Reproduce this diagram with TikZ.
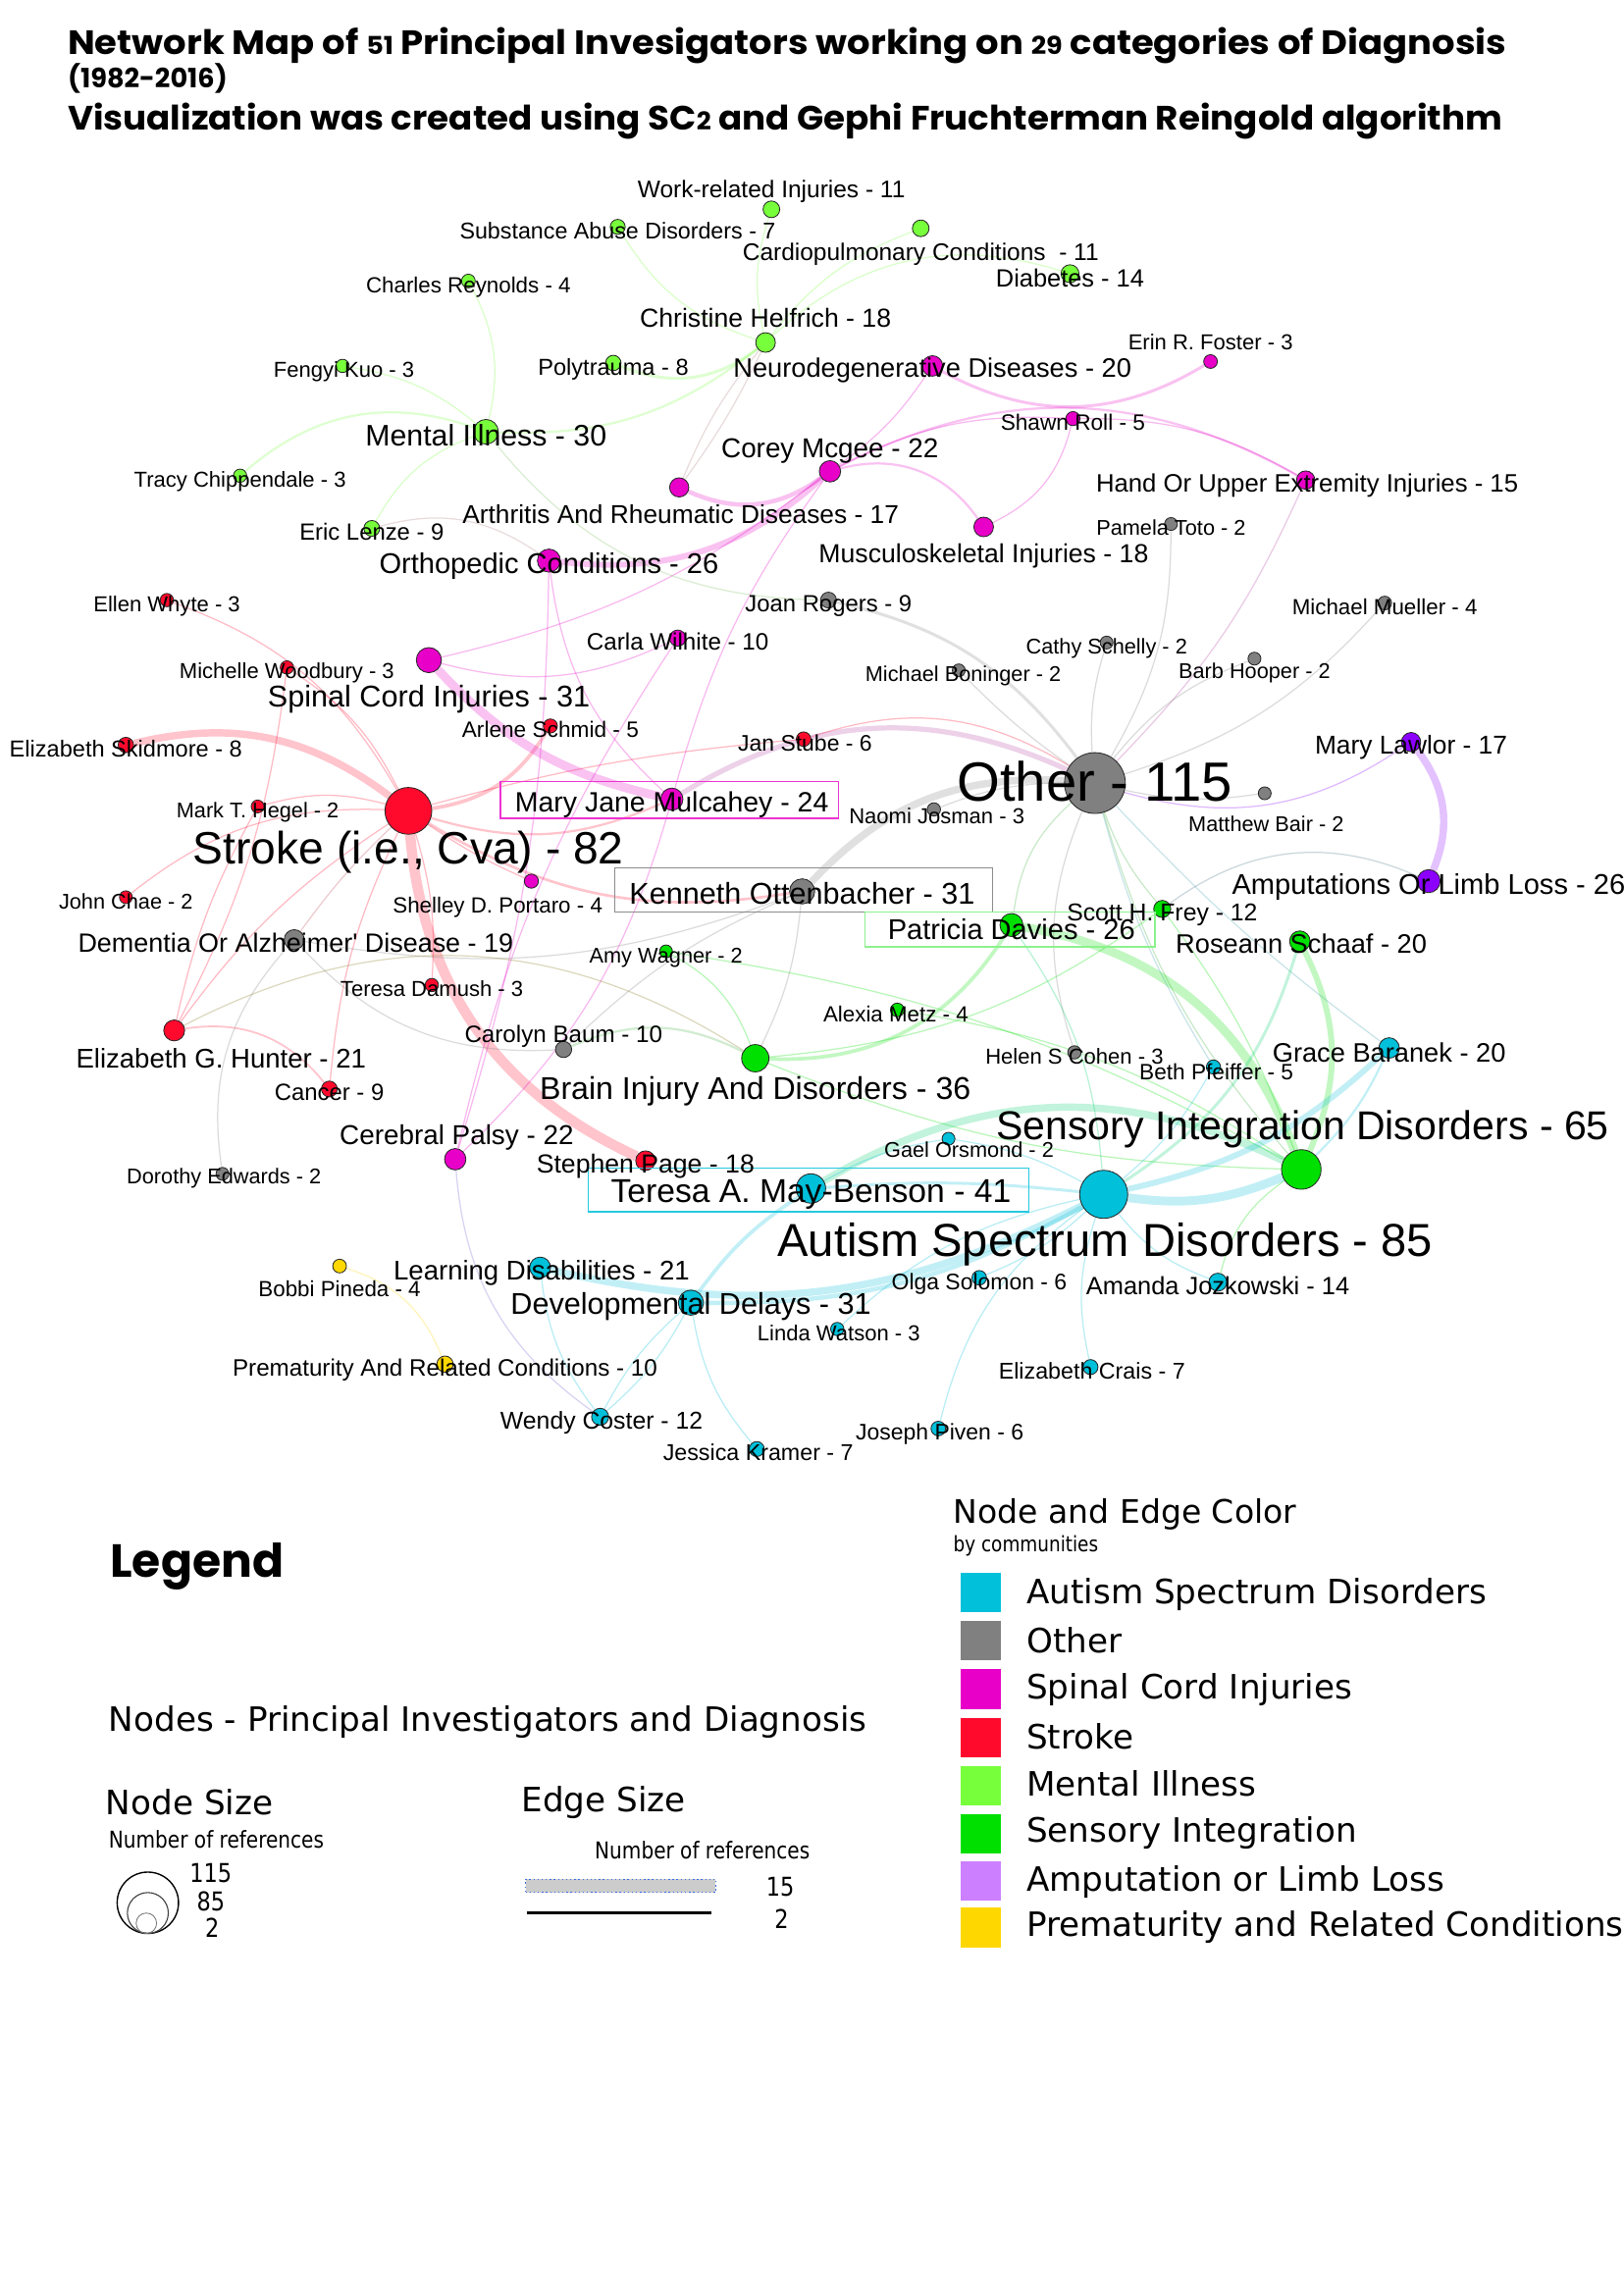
\documentclass[tikz,border=0pt]{standalone}
\usepackage{fontspec}
\setmainfont{Liberation Sans}
\newfontfamily\lbfont{Liberation Sans}
\newfontfamily\vfont{DejaVu Sans}
\newfontfamily\cfont{DejaVu Sans}[FakeStretch=0.85]
\newfontfamily\tfont{Poppins}
\pgfdeclarelayer{bgl}
\pgfdeclarelayer{edges}
\pgfsetlayers{bgl,edges,main}
\definecolor{cASD}{RGB}{0,192,218}
\definecolor{cOTH}{RGB}{128,128,128}
\definecolor{cSCI}{RGB}{232,0,200}
\definecolor{cSTR}{RGB}{255,10,45}
\definecolor{cMI}{RGB}{120,255,60}
\definecolor{cSI}{RGB}{0,224,0}
\definecolor{cAMP}{RGB}{140,0,255}
\definecolor{cAMPl}{RGB}{204,128,255}
\definecolor{cPRE}{RGB}{255,215,0}
\definecolor{cDot}{RGB}{60,110,230}
\tikzset{
  gnode/.style={circle, draw=black!85, line width=0.3pt, fill=#1, inner sep=0pt},
  gsz/.style={minimum size={(4.1+0.145*#1)*1.07354pt}},
  glab/.style={font={\lbfont\pgfmathsetmacro\lsz{7.6+0.11*#1}\fontsize{\lsz}{\lsz}\selectfont}, inner sep=0pt, anchor=mid, text=black, yshift={-0.2*(7.6+0.11*#1)*1pt}},
  lnk/.style={draw=#1, draw opacity=0.28, line width=0.45pt},
  ew/.style={line width={#1*0.53677pt}, draw opacity=0.24},
  lgbox/.style={draw=#1, line width=0.5pt, inner sep=0pt},
  sq/.style={fill=#1, minimum width=15pt, minimum height=14.5pt, inner sep=0pt},
  lgt/.style={font=\vfont\fontsize{12.3}{12.3}\selectfont, anchor=mid west, inner sep=0pt},
  lgs/.style={font=\cfont\fontsize{#1}{#1}\selectfont, inner sep=0pt},
}
\newcommand\gn[5]{\node[gnode=#4, gsz=#5] (#1) at (#2,#3) {};}
\newcommand\gl[5]{\node[glab=#4] (l#1) at (#2,#3) {#5};}
\begin{document}
\begin{tikzpicture}[x=0.53677pt, y=-0.53677pt]
\useasboundingbox (0,0) rectangle (1109,1568);
\begin{pgfonlayer}{bgl}
\fill[white] (0,0) rectangle (1109,1568);
\end{pgfonlayer}

% ---------- title ----------
\node[anchor=base west, inner sep=0pt] (title1) at (46,37) {\resizebox{527.6pt}{9.9pt}{\tfont\bfseries\fontsize{13}{13}\selectfont Network Map of {\fontsize{9.5}{9.5}\selectfont 51} Principal Invesigators working on {\fontsize{9.5}{9.5}\selectfont 29} categories of Diagnosis}};
\node[anchor=base west, inner sep=0pt] (title2) at (46,60) {\resizebox{58.5pt}{!}{\tfont\bfseries\fontsize{9}{9}\selectfont (1982-2016)}};
\node[anchor=base west, inner sep=0pt] (title3) at (46,89) {\resizebox{526pt}{9.9pt}{\tfont\bfseries\fontsize{13}{13}\selectfont Visualization was created using SC{\fontsize{9.5}{9.5}\selectfont 2} and Gephi Fruchterman Reingold algorithm}};

% ---------- nodes ----------
\gn{work}{527}{143}{cMI}{11}
\gn{subst}{422}{155}{cMI}{7}
\gn{cardio}{629}{156}{cMI}{11}
\gn{diab}{731}{187}{cMI}{14}
\gn{charles}{320}{192}{cMI}{4}
\gn{chris}{523}{234}{cMI}{18}
\gn{poly}{419}{248}{cMI}{8}
\gn{fengyi}{234}{250}{cMI}{3}
\gn{mi}{332}{295}{cMI}{30}
\gn{tracy}{164}{325}{cMI}{3}
\gn{eric}{254}{361}{cMI}{9}
\gn{neuro}{637}{250}{cSCI}{20}
\gn{erin}{827}{247}{cSCI}{4}
\gn{shawn}{733}{286}{cSCI}{5}
\gn{corey}{567}{322}{cSCI}{22}
\gn{hand}{892}{328}{cSCI}{15}
\gn{arth}{464}{333}{cSCI}{17}
\gn{orth}{375}{383}{cSCI}{26}
\gn{musc}{672}{360}{cSCI}{18}
\gn{carla}{463}{436}{cSCI}{10}
\gn{sci}{293}{451}{cSCI}{31}
\gn{mjm}{459}{546}{cSCI}{24}
\gn{portaro}{363}{602}{cSCI}{5}
\gn{cp}{311}{792}{cSCI}{22}
\gn{ellen}{114}{410}{cSTR}{3}
\gn{woodbury}{196}{456}{cSTR}{3}
\gn{skid}{86}{509}{cSTR}{8}
\gn{schmid}{376}{496}{cSTR}{5}
\gn{stube}{549}{505}{cSTR}{6}
\gn{stroke}{279}{554}{cSTR}{82}
\gn{hegel}{176}{551}{cSTR}{2}
\gn{chae}{86}{613}{cSTR}{2}
\gn{damush}{295}{673}{cSTR}{3}
\gn{hunter}{119}{704}{cSTR}{21}
\gn{cancer}{225}{744}{cSTR}{9}
\gn{page}{441}{793}{cSTR}{18}
\gn{joan}{566}{410}{cOTH}{9}
\gn{pamela}{800}{358}{cOTH}{2}
\gn{mueller}{946}{412}{cOTH}{4}
\gn{cathy}{756}{439}{cOTH}{2}
\gn{boninger}{655}{458}{cOTH}{2}
\gn{barb}{857}{450}{cOTH}{2}
\gn{other}{748}{535}{cOTH}{115}
\gn{bair}{864}{542}{cOTH}{2}
\gn{naomi}{638}{553}{cOTH}{3}
\gn{kenneth}{548}{609}{cOTH}{31}
\gn{dementia}{201}{642}{cOTH}{19}
\gn{baum}{385}{717}{cOTH}{10}
\gn{dorothy}{152}{802}{cOTH}{2}
\gn{helen}{734}{719}{cOTH}{3}
\gn{frey}{794}{621}{cSI}{12}
\gn{davies}{691}{632}{cSI}{26}
\gn{schaaf}{888}{643}{cSI}{20}
\gn{wagner}{455}{650}{cSI}{2}
\gn{metz}{613}{690}{cSI}{4}
\gn{brain}{516}{723}{cSI}{36}
\gn{sid}{889}{799}{cSI}{65}
\gn{lawlor}{964}{507}{cAMP}{17}
\gn{amp}{976}{602}{cAMP}{26}
\gn{baranek}{949}{716}{cASD}{20}
\gn{pfeiffer}{829}{729}{cASD}{5}
\gn{orsmond}{648}{778}{cASD}{2}
\gn{mayb}{554}{812}{cASD}{41}
\gn{asd}{754}{816}{cASD}{85}
\gn{ld}{369}{866}{cASD}{21}
\gn{dd}{472}{890}{cASD}{31}
\gn{solomon}{669}{873}{cASD}{6}
\gn{jozk}{832}{876}{cASD}{14}
\gn{watson}{572}{908}{cASD}{3}
\gn{crais}{745}{934}{cASD}{7}
\gn{coster}{410}{968}{cASD}{12}
\gn{piven}{641}{976}{cASD}{6}
\gn{kramer}{517}{990}{cASD}{7}
\gn{pineda}{232}{865}{cPRE}{4}
\gn{prem}{304}{932}{cPRE}{10}

% ---------- edges ----------
\begin{pgfonlayer}{edges}
% stroke
\draw[lnk=cSTR, ew=7] (stroke) to[bend right=30] (page);
\draw[lnk=cSTR, ew=5] (skid) to[bend left=25] (stroke);
\draw[lnk=cSTR] (ellen) to[bend left=20] (stroke);
\draw[lnk=cSTR] (woodbury) to[bend left=15] (stroke);
\draw[lnk=cSTR] (hegel) to[bend left=15] (stroke);
\draw[lnk=cSTR, ew=2.5] (stroke) to[bend right=25] (schmid);
\draw[lnk=cSTR] (stroke) to[bend left=5] (stube);
\draw[lnk=cSTR] (stube) to[bend left=25] (other);
\draw[lnk=cSTR] (chae) to[bend left=20] (stroke);
\draw[lnk=cSTR] (hunter) to[bend left=10] (stroke);
\draw[lnk=cSTR] (hunter) to[bend right=10] (woodbury);
\draw[lnk=cSTR] (hunter) to[bend left=8] (hegel);
\draw[lnk=cSTR, ew=1.2] (hunter) to[bend left=30] (cancer);
\draw[lnk=cSTR] (stroke) to[bend right=10] (cancer);
\draw[lnk=cSTR] (damush) to[bend right=10] (stroke);
\draw[lnk=cSTR, ew=1.8] (stroke) to[bend right=20] (kenneth);
\draw[lnk=cSTR, ew=1.5] (stroke) to[bend right=20] (mjm);
\draw[lnk=cSTR] (stroke) to[bend right=5] (portaro);
\draw[lnk=cSTR!50!cOTH] (dementia) to[bend left=5] (stroke);
% spinal cord
\draw[lnk=cSCI, ew=6] (sci) to[bend right=17] (mjm);
\draw[lnk=cSCI, ew=4] (orth) to[bend right=24] (corey);
\draw[lnk=cSCI, ew=3] (arth) to[bend right=30] (corey);
\draw[lnk=cSCI] (sci) to[bend right=20] (carla);
\draw[lnk=cSCI] (sci) to[bend right=12] (corey);
\draw[lnk=cSCI] (corey) to[bend right=10] (mjm);
\draw[lnk=cSCI] (orth) to[bend right=20] (mjm);
\draw[lnk=cSCI] (orth) to[bend left=8] (cp);
\draw[lnk=cSCI] (mjm) to[bend left=15] (cp);
\draw[lnk=cSCI] (cp) to[bend left=10] (carla);
\draw[lnk=cSCI, ew=2] (neuro) to[bend right=30] (erin);
\draw[lnk=cSCI, ew=1.5] (corey) to[bend left=28] (hand);
\draw[lnk=cSCI] (shawn) to[bend left=15] (hand);
\draw[lnk=cSCI] (corey) to[bend left=15] (shawn);
\draw[lnk=cSCI, ew=1.5] (corey) to[bend left=35] (musc);
\draw[lnk=cSCI] (shawn) to[bend left=25] (musc);
\draw[lnk=cSCI] (neuro) to[bend left=10] (corey);
\draw[lnk=cSCI!50!cOTH] (hand) to[bend left=10] (other);
\draw[lnk=cSCI!50!cOTH, ew=3.5] (mjm) to[bend left=28] (other);
\draw[lnk=cSCI!50!cASD] (cp) to[bend right=25] (coster);
\draw[lnk=cSCI!50!cMI] (chris) to[bend right=8] (arth);
\draw[lnk=cSCI!50!cMI] (chris) to[bend left=5] (arth);
\draw[lnk=cSCI!50!cMI] (eric) to[bend left=25] (orth);
% mental illness
\draw[lnk=cMI] (charles) to[bend left=20] (mi);
\draw[lnk=cMI] (fengyi) to[bend left=15] (mi);
\draw[lnk=cMI, ew=1.5] (tracy) to[bend left=30] (mi);
\draw[lnk=cMI] (eric) to[bend left=20] (mi);
\draw[lnk=cMI, ew=1.5] (mi) to[bend right=20] (chris);
\draw[lnk=cMI, ew=2] (poly) to[bend right=30] (chris);
\draw[lnk=cMI] (subst) to[bend right=20] (chris);
\draw[lnk=cMI] (work) to[bend right=15] (chris);
\draw[lnk=cMI] (chris) to[bend left=15] (cardio);
\draw[lnk=cMI] (chris) to[bend left=30] (diab);
\draw[lnk=cMI!50!cOTH] (mi) to[bend right=25] (joan);
% other
\draw[lnk=cOTH, ew=5] (kenneth) to[bend left=25] (other);
\draw[lnk=cOTH, ew=2] (joan) to[bend left=20] (other);
\draw[lnk=cOTH] (other) to[bend left=10] (cathy);
\draw[lnk=cOTH] (other) to[bend left=5] (boninger);
\draw[lnk=cOTH] (other) to[bend left=15] (barb);
\draw[lnk=cOTH] (other) to[bend right=15] (mueller);
\draw[lnk=cOTH] (other) to[bend right=15] (pamela);
\draw[lnk=cOTH] (other) to[bend right=10] (naomi);
\draw[lnk=cOTH] (other) to[bend right=20] (helen);
\draw[lnk=cOTH] (other) to[bend right=10] (bair);
\draw[lnk=cOTH] (kenneth) to[bend left=10] (brain);
\draw[lnk=cOTH] (kenneth) to[bend right=10] (baum);
\draw[lnk=cOTH] (dementia) to[bend right=15] (kenneth);
\draw[lnk=cOTH] (dementia) to[bend right=25] (baum);
\draw[lnk=cOTH] (dorothy) to[bend left=25] (dementia);
\draw[lnk=cOTH!50!cSI] (other) to[bend right=20] (davies);
\draw[lnk=cOTH!50!cSI] (other) to[bend right=10] (frey);
\draw[lnk=cOTH!50!cSI] (other) to[bend right=12] (sid);
\draw[lnk=cOTH!50!cASD] (other) to[bend right=8] (pfeiffer);
\draw[lnk=cOTH!50!cASD] (other) to[bend right=5] (baranek);
\draw[lnk=cOTH!50!cSI, ew=1.5] (baum) to[bend left=25] (brain);
\draw[lnk=cSTR!50!cSI] (hunter) to[bend left=30] (brain);
\draw[lnk=cAMP] (other) to[bend right=25] (lawlor);
\draw[lnk=cSI!50!cAMP] (frey) to[bend left=30] (amp);
% sensory integration
\draw[lnk=cSI, ew=6] (davies) to[bend left=30] (sid);
\draw[lnk=cSI, ew=4] (schaaf) to[bend left=25] (sid);
\draw[lnk=cSI, ew=2.5] (brain) to[bend right=30] (davies);
\draw[lnk=cSI] (brain) to[bend right=15] (frey);
\draw[lnk=cSI] (brain) to[bend right=10] (sid);
\draw[lnk=cSI] (wagner) to[bend left=20] (brain);
\draw[lnk=cSI] (wagner) to[bend left=10] (sid);
\draw[lnk=cSI] (metz) to[bend left=12] (sid);
\draw[lnk=cSI] (frey) to[bend left=8] (sid);
\draw[lnk=cSI] (jozk) to[bend left=20] (sid);
\draw[lnk=cSI!50!cASD, ew=5] (mayb) to[bend left=28] (sid);
\draw[lnk=cSI!50!cASD, ew=2] (schaaf) to[bend left=20] (asd);
\draw[lnk=cSI!50!cASD] (davies) to[bend left=15] (asd);
% amputation
\draw[lnk=cAMP, ew=5] (lawlor) to[bend left=30] (amp);
% autism
\draw[lnk=cASD, ew=6] (asd) to[bend right=15] (sid);
\draw[lnk=cASD, ew=4] (baranek) to[bend left=15] (asd);
\draw[lnk=cASD, ew=1.5] (baranek) to[bend left=10] (sid);
\draw[lnk=cASD, ew=2] (mayb) to[bend left=5] (asd);
\draw[lnk=cASD, ew=5] (ld) to[bend right=20] (asd);
\draw[lnk=cASD, ew=3] (dd) to[bend right=15] (asd);
\draw[lnk=cASD, ew=2.5] (dd) to[bend left=10] (mayb);
\draw[lnk=cASD] (asd) to[bend right=10] (orsmond);
\draw[lnk=cASD] (mayb) to[bend left=10] (orsmond);
\draw[lnk=cASD] (asd) to[bend left=10] (solomon);
\draw[lnk=cASD] (asd) to[bend right=15] (watson);
\draw[lnk=cASD] (asd) to[bend right=15] (crais);
\draw[lnk=cASD] (asd) to[bend right=20] (piven);
\draw[lnk=cASD] (asd) to[bend right=15] (jozk);
\draw[lnk=cASD] (asd) to[bend right=10] (pfeiffer);
\draw[lnk=cASD] (dd) to[bend left=10] (coster);
\draw[lnk=cASD] (dd) to[bend right=10] (coster);
\draw[lnk=cASD] (dd) to[bend right=15] (kramer);
\draw[lnk=cASD] (ld) to[bend right=15] (coster);
% prematurity
\draw[lnk=cPRE, ew=1] (pineda) to[bend left=25] (prem);
\end{pgfonlayer}

% ---------- boxes of highlighted labels ----------
\node[lgbox=cSCI!80!white, minimum width=124pt, minimum height=13.4pt] (bmjm) at (457.5,546.5) {};
\node[lgbox=black!45, minimum width=138.5pt, minimum height=16pt] (bkenneth) at (549,608) {};
\node[lgbox=cSI!45!white, minimum width=106.3pt, minimum height=12.9pt] (bdavies) at (690,635) {};
\node[lgbox=cASD!85!white, minimum width=161.6pt, minimum height=16pt] (bmayb) at (552.5,813) {};

% ---------- labels ----------
\gl{work}{527}{127}{11}{Work-related Injuries - 11}
\gl{subst}{422}{155}{7}{Substance Abuse Disorders - 7}
\gl{cardio}{629}{170}{11}{Cardiopulmonary Conditions\ \ - 11}
\gl{diab}{731}{188}{14}{Diabetes - 14}
\gl{charles}{320}{192}{4}{Charles Reynolds - 4}
\gl{chris}{523}{215}{18}{Christine Helfrich - 18}
\gl{poly}{419}{248}{8}{Polytrauma - 8}
\gl{fengyi}{235}{250}{3}{Fengyi Kuo - 3}
\gl{mi}{332}{296}{30}{Mental Illness - 30}
\gl{tracy}{164}{325}{3}{Tracy Chippendale - 3}
\gl{eric}{254}{361}{9}{Eric Lenze - 9}
\gl{neuro}{637}{249}{20}{Neurodegenerative Diseases - 20}
\gl{erin}{827}{231}{3}{Erin R. Foster - 3}
\gl{shawn}{733}{286}{5}{Shawn Roll - 5}
\gl{corey}{567}{304}{22}{Corey Mcgee - 22}
\gl{hand}{893}{328}{15}{Hand Or Upper Extremity Injuries - 15}
\gl{arth}{465}{349}{17}{Arthritis And Rheumatic Diseases - 17}
\gl{orth}{375}{383}{26}{Orthopedic Conditions - 26}
\gl{musc}{672}{376}{18}{Musculoskeletal Injuries - 18}
\gl{carla}{463}{436}{10}{Carla Wilhite - 10}
\gl{sci}{293}{474}{31}{Spinal Cord Injuries - 31}
\gl{mjm}{459}{546}{24}{Mary Jane Mulcahey - 24}
\gl{portaro}{340}{616}{4}{Shelley D. Portaro - 4}
\gl{cp}{312}{773}{22}{Cerebral Palsy - 22}
\gl{ellen}{114}{410}{3}{Ellen Whyte - 3}
\gl{woodbury}{196}{456}{3}{Michelle Woodbury - 3}
\gl{skid}{86}{509}{8}{Elizabeth Skidmore - 8}
\gl{schmid}{376}{496}{5}{Arlene Schmid - 5}
\gl{stube}{550}{505}{6}{Jan Stube - 6}
\gl{stroke}{279}{579}{82}{Stroke (i.e., Cva) - 82}
\gl{hegel}{176}{551}{2}{Mark T. Hegel - 2}
\gl{chae}{86}{613}{2}{John Chae - 2}
\gl{damush}{295}{673}{3}{Teresa Damush - 3}
\gl{hunter}{151}{721}{21}{Elizabeth G. Hunter - 21}
\gl{cancer}{225}{744}{9}{Cancer - 9}
\gl{page}{441}{793}{18}{Stephen Page - 18}
\gl{joan}{566}{410}{9}{Joan Rogers - 9}
\gl{pamela}{800}{358}{2}{Pamela Toto - 2}
\gl{mueller}{946}{412}{4}{Michael Mueller - 4}
\gl{cathy}{756}{439}{2}{Cathy Schelly - 2}
\gl{boninger}{658}{458}{2}{Michael Boninger - 2}
\gl{barb}{857}{456}{2}{Barb Hooper - 2}
\gl{other}{748}{535}{115}{Other - 115}
\gl{bair}{865}{560}{2}{Matthew Bair - 2}
\gl{naomi}{640}{555}{3}{Naomi Josman - 3}
\gl{kenneth}{548}{609}{31}{Kenneth Ottenbacher - 31}
\gl{dementia}{202}{642}{19}{Dementia Or Alzheimer' Disease - 19}
\gl{baum}{385}{704}{10}{Carolyn Baum - 10}
\gl{dorothy}{153}{801}{2}{Dorothy Edwards - 2}
\gl{helen}{734}{719}{3}{Helen S Cohen - 3}
\gl{frey}{794}{621}{12}{Scott H. Frey - 12}
\gl{davies}{691}{633}{26}{Patricia Davies - 26}
\gl{schaaf}{889}{643}{20}{Roseann Schaaf - 20}
\gl{wagner}{455}{650}{2}{Amy Wagner - 2}
\gl{metz}{612}{690}{4}{Alexia Metz - 4}
\gl{brain}{516}{742}{36}{Brain Injury And Disorders - 36}
\gl{sid}{890}{768}{65}{Sensory Integration Disorders - 65}
\gl{lawlor}{964}{507}{17}{Mary Lawlor - 17}
\gl{amp}{976}{602}{26}{Amputations Or Limb Loss - 26}
\gl{baranek}{949}{717}{20}{Grace Baranek - 20}
\gl{pfeiffer}{831}{730}{5}{Beth Pfeiffer - 5}
\gl{orsmond}{662}{783}{2}{Gael Orsmond - 2}
\gl{mayb}{554}{812}{41}{Teresa A. May-Benson - 41}
\gl{asd}{755}{847}{85}{Autism Spectrum Disorders - 85}
\gl{ld}{370}{866}{21}{Learning Disabilities - 21}
\gl{dd}{472}{889}{31}{Developmental Delays - 31}
\gl{solomon}{669}{873}{6}{Olga Solomon - 6}
\gl{jozk}{832}{876}{14}{Amanda Jozkowski - 14}
\gl{watson}{573}{908}{3}{Linda Watson - 3}
\gl{crais}{746}{934}{7}{Elizabeth Crais - 7}
\gl{coster}{411}{968}{12}{Wendy Coster - 12}
\gl{piven}{642}{976}{6}{Joseph Piven - 6}
\gl{kramer}{518}{990}{7}{Jessica Kramer - 7}
\gl{pineda}{232}{878}{4}{Bobbi Pineda - 4}
\gl{prem}{304}{932}{10}{Prematurity And Related Conditions - 10}

% ---------- legend ----------
\node[font=\tfont\bfseries\fontsize{17}{17}\selectfont, anchor=mid west, inner sep=0pt] (lgtitle) at (75,1073) {Legend};
\node[lgt] (lgnodes) at (74,1178) {Nodes - Principal Investigators and Diagnosis};
\node[lgt] (lgns) at (72,1235) {Node Size};
\node[lgs=8.5, anchor=mid west] (lgnsr) at (74,1258) {Number of references};
\node[circle, draw=black, line width=0.5pt, minimum size=22.5pt, inner sep=0pt] (lgc1) at (101,1300) {};
\node[circle, draw=black!75, line width=0.4pt, minimum size=15pt, inner sep=0pt] (lgc2) at (101,1307) {};
\node[circle, draw=black!55, line width=0.3pt, minimum size=7.5pt, inner sep=0pt] (lgc3) at (100,1314) {};
\node[lgs=9.5] (lgn115) at (144,1280) {115};
\node[lgs=9.5] (lgn85) at (144,1299) {85};
\node[lgs=9.5] (lgn2) at (145,1317) {2};
\node[lgt] (lges) at (356,1233) {Edge Size};
\node[lgs=8.5, anchor=mid west] (lgesr) at (406,1265) {Number of references};
\node[draw=cDot, densely dotted, line width=0.5pt, fill=black!20, minimum width=69.8pt, minimum height=4.8pt, inner sep=0pt] (lgthick) at (424,1288.5) {};
\node[lgs=9.5] (lge15) at (533,1289) {15};
\coordinate (lgl1) at (360,1307);
\coordinate (lgl2) at (486,1307);
\draw[line width=1pt] (lgl1) -- (lgl2);
\node[lgs=9.5] (lge2) at (534,1311) {2};
\node[font=\vfont\fontsize{11.9}{11.9}\selectfont, anchor=mid west, inner sep=0pt] (lgcol) at (651,1036) {Node and Edge Color};
\node[lgs=7.8, anchor=mid west] (lgcom) at (651,1055) {by communities};
\node[sq=cASD] (sq1) at (670,1088) {};
\node[sq=cOTH] (sq2) at (670,1121) {};
\node[sq=cSCI] (sq3) at (670,1154) {};
\node[sq=cSTR] (sq4) at (670,1187) {};
\node[sq=cMI] (sq5) at (670,1220) {};
\node[sq=cSI] (sq6) at (670,1253) {};
\node[sq=cAMPl] (sq7) at (670,1285) {};
\node[sq=cPRE] (sq8) at (670,1317) {};
\node[lgt] (lt1) at (701,1091) {Autism Spectrum Disorders};
\node[lgt] (lt2) at (701,1124) {Other};
\node[lgt] (lt3) at (701,1156) {Spinal Cord Injuries};
\node[lgt] (lt4) at (701,1190) {Stroke};
\node[lgt] (lt5) at (701,1222) {Mental Illness};
\node[lgt] (lt6) at (701,1254) {Sensory Integration};
\node[lgt] (lt7) at (701,1287) {Amputation or Limb Loss};
\node[lgt] (lt8) at (701,1318) {Prematurity and Related Conditions};
\end{tikzpicture}
\end{document}
